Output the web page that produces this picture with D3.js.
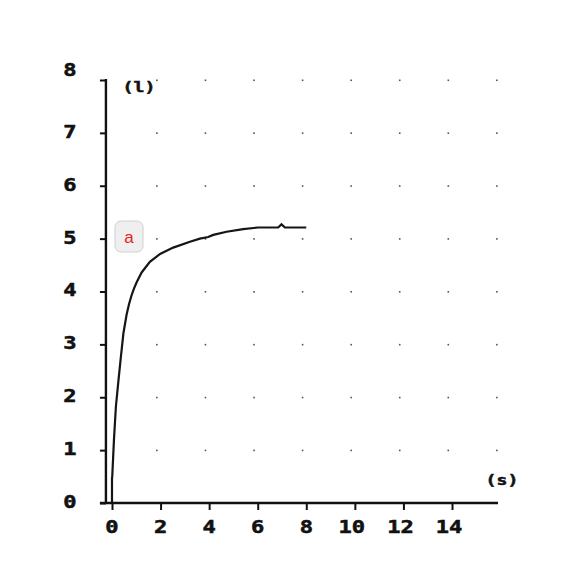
<!DOCTYPE html>
<html>
<head>
<meta charset="utf-8">
<script src="https://cdn.jsdelivr.net/npm/d3@7"></script>
<style>
  body { margin: 0; background: #fff; }
  text { font-family: "DejaVu Sans Mono", "Liberation Mono", monospace; font-weight: bold; fill: #111; }
</style>
</head>
<body>
<div class="svg"></div>
<script>
// curve: time (s) and volume (l)
const timeS = [0, 0, 0.01, 0.08, 0.16, 0.26, 0.36, 0.47, 0.6, 0.7, 0.8, 0.9, 1.02, 1.22, 1.56, 1.98, 2.52, 3.21, 3.62, 3.96, 4.17, 4.72, 5.4, 6.02, 6.84, 6.98, 7.12, 8.0];
const volL  = [0, 0.47, 0.5, 1.19, 1.82, 2.29, 2.74, 3.21, 3.56, 3.76, 3.92, 4.05, 4.18, 4.36, 4.56, 4.71, 4.83, 4.94, 5.0, 5.03, 5.07, 5.13, 5.18, 5.21, 5.21, 5.27, 5.21, 5.21];
const xTicks = [0, 2, 4, 6, 8, 10, 12, 14];
const yTicks = [0, 1, 2, 3, 4, 5, 6, 7, 8];
const dotCols = [2, 4, 6, 8, 10, 12, 14, 16];
const dotRows = [1, 2, 3, 4, 5, 6, 7, 8];

const width = 588, height = 574;
let svg = d3.select('.svg').append('svg').attr('width', width).attr('height', height);

let x = d3.scaleLinear().domain([0, 14]).range([112, 452]);
let y = d3.scaleLinear().domain([0, 8]).range([503, 80]);
const axisX = x(-0.25); // y axis sits a bit left of t=0

// wide pixel-ish label: draw at (px,py), stretched sideways
function label(g, px, py, txt, size) {
  g.append('text')
    .attr('transform', 'translate(' + px + ',' + py + ') scale(1.3,1)')
    .attr('dy', '0.35em')
    .attr('text-anchor', 'middle')
    .style('font-size', size + 'px')
    .style('stroke', '#111').style('stroke-width', 0.5)
    .text(txt);
}

// grid dots
dotRows.forEach(r => {
  svg.append('g').selectAll('rect').data(dotCols).enter().append('rect')
    .attr('x', d => x(d) - 4.5)
    .attr('y', y(r) - 0.5)
    .attr('width', 1.6).attr('height', 1.6)
    .attr('fill', '#555');
});

// axes
let gy = svg.append('g').attr('transform', 'translate(' + axisX + ',0)')
  .call(d3.axisLeft(y).tickValues(yTicks).tickSize(6).tickFormat(''));
gy.select('.domain').remove();
gy.selectAll('.tick line').attr('stroke', '#111').attr('stroke-width', 2);

let gx = svg.append('g').attr('transform', 'translate(0,' + y(0) + ')')
  .call(d3.axisBottom(x).tickValues(xTicks).tickSize(7).tickFormat(''));
gx.select('.domain').remove();
gx.selectAll('.tick line').attr('stroke', '#111').attr('stroke-width', 2);

svg.append('line').attr('x1', axisX).attr('x2', axisX).attr('y1', y(8) - 1).attr('y2', y(0) + 1)
  .attr('stroke', '#111').attr('stroke-width', 2.4);
svg.append('line').attr('x1', axisX - 6).attr('x2', 498).attr('y1', y(0)).attr('y2', y(0))
  .attr('stroke', '#111').attr('stroke-width', 2.4);

// tick labels
let gyl = svg.append('g');
yTicks.forEach(d => label(gyl, 70, y(d) + (d === 8 ? -10 : -1), d, 17));
let gxl = svg.append('g');
xTicks.forEach(d => label(gxl, x(d) - (d >= 10 ? 3 : 0), 527, d, 17));

// unit labels
label(svg, 139, 87, '(l)', 14);
label(svg, 502, 480, '(s)', 14);

// curve
let line = d3.line().x((d, i) => x(timeS[i])).y(d => y(d));
svg.append('path').datum(volL)
  .attr('d', line)
  .attr('fill', 'none')
  .attr('stroke', '#151515')
  .attr('stroke-width', 2.2);

// "a" label box
let ga = svg.append('g');
ga.append('rect').attr('x', 115).attr('y', 221).attr('width', 28).attr('height', 31).attr('rx', 6)
  .attr('fill', '#efefef').attr('stroke', '#d0d0d0');
ga.append('text').attr('x', 129).attr('y', 237).attr('dy', '0.35em').attr('text-anchor', 'middle')
  .style('font-family', 'Arial, "Liberation Sans", sans-serif').style('font-weight', 'normal')
  .style('font-size', '17px').style('fill', '#e8201e').text('a');
</script>
</body>
</html>
